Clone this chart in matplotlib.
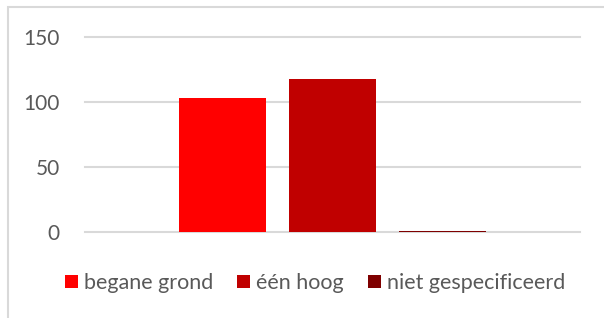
import matplotlib.pyplot as plt
from matplotlib.patches import Rectangle

# data
series = ["begane grond", "één hoog", "niet gespecificeerd"]
values = [103, 118, 1]
colors = ["#ff0000", "#c00000", "#7f0000"]
yticks = [0, 50, 100, 150]

plt.rcParams['font.family'] = ['Lato', 'DejaVu Sans']

fig = plt.figure(figsize=(6.04, 3.18), dpi=100)
ax = fig.add_axes([85 / 604, 1 - 232 / 318, 495 / 604, (232 - 37) / 318])

bar_w = 0.176
step = 0.222
for i, (name, v, c) in enumerate(zip(series, values, colors)):
    ax.bar((i - 1) * step, v, width=bar_w, color=c, label=name, zorder=3)

ax.set_xlim(-0.5, 0.5)
ax.set_ylim(0, 150)
ax.set_yticks(yticks)
ax.set_xticks([])
ax.grid(axis='y', color='#d9d9d9', linewidth=1.5, zorder=0)
ax.set_axisbelow(True)
for s in ax.spines.values():
    s.set_visible(False)
ax.tick_params(axis='y', length=0, pad=18, labelsize=15, labelcolor='#595959')
for gl in ax.get_ygridlines():
    gl.set_clip_on(False)

leg = fig.legend(loc='center', bbox_to_anchor=(315 / 604, 1 - 283 / 318), ncol=3,
                 frameon=False, fontsize=15.5, handlelength=0.6, handleheight=0.6,
                 handletextpad=0.3, columnspacing=1.1, labelcolor='#595959')

# outer chart border
fig.patches.append(Rectangle((8 / 604, -0.1), 1.1, 1 - 7 / 318 + 0.1,
                             transform=fig.transFigure, fill=False,
                             edgecolor='#d9d9d9', linewidth=1.5))

fig.savefig("out.png", dpi=100)
